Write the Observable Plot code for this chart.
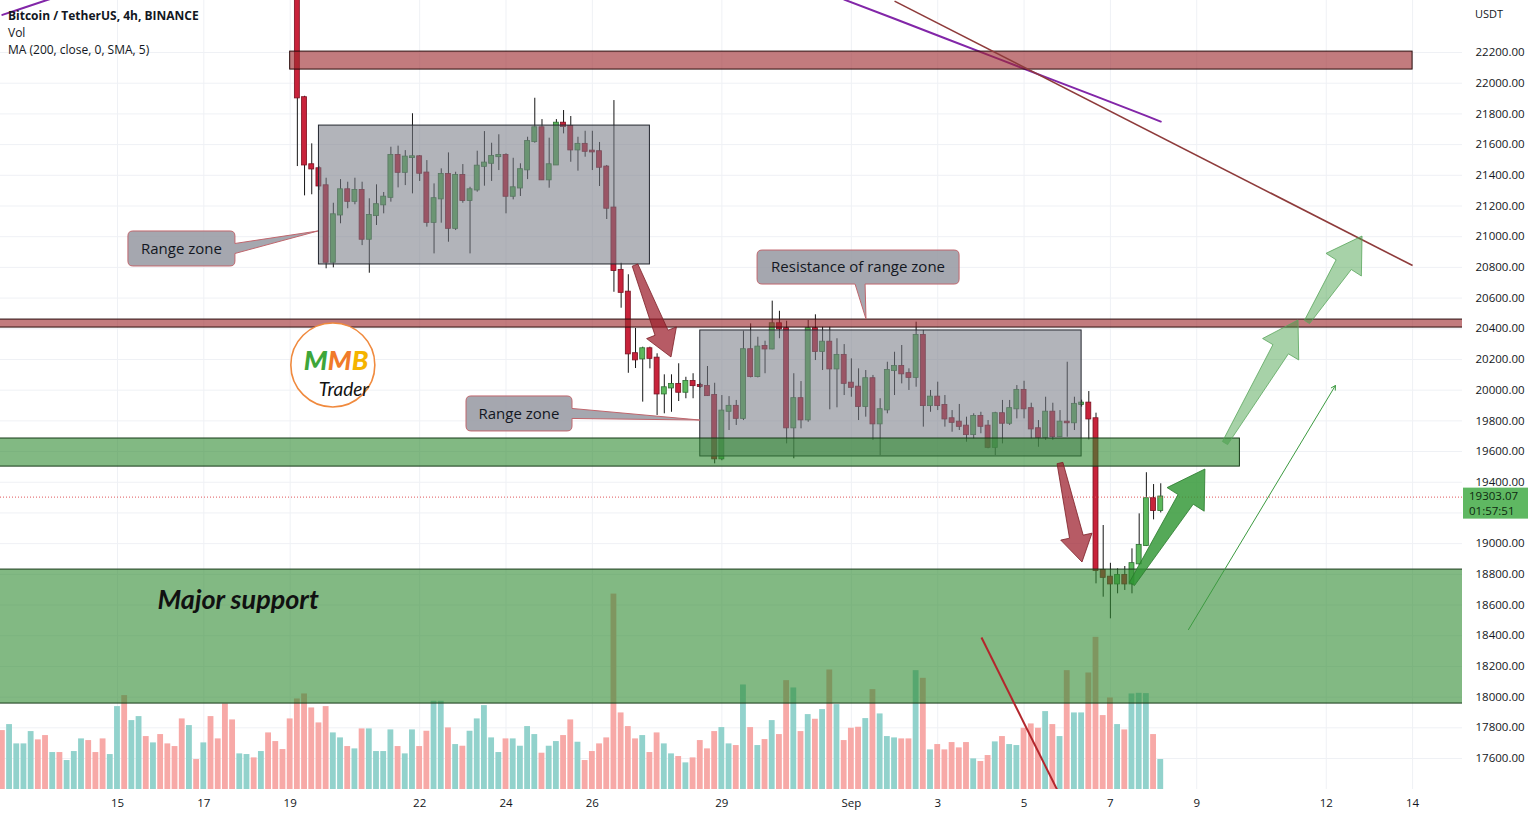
<!DOCTYPE html>
<html><head><meta charset="utf-8">
<script src="https://cdn.jsdelivr.net/npm/d3@7"></script>
<script src="https://cdn.jsdelivr.net/npm/@observablehq/plot@0.6"></script>
<style>
body{margin:0;background:#fff;}
#wrap{position:relative;width:1534px;height:818px;overflow:hidden;font-family:"Open Sans",sans-serif;}
.layer{position:absolute;left:0;top:0;}
#legend{position:absolute;left:8px;top:7px;font-size:12px;line-height:17px;color:#131722;}
#usdt{position:absolute;left:1475px;top:6px;font-size:11px;color:#131722;}
</style></head><body>
<div id="wrap">
  <div id="grid" class="layer"></div>
  <div id="vol" class="layer"></div>
  <div id="main" class="layer"></div>
  <div id="legend"><div style="font-weight:700">Bitcoin / TetherUS, 4h, BINANCE</div><div>Vol</div><div>MA (200, close, 0, SMA, 5)</div></div>
  <div id="usdt">USDT</div>
</div>
<script>
// ---------------- data ----------------
const firstCandle = "2022-08-19T04:00:00Z"; // 4h candles
const opens = [23180,21905,21468,21442,21331,20834,21142,21305,21231,21301,20984,21138,21208,21257,21529,21420,21516,21520,21414,21094,21247,21405,21055,21398,21236,21305,21459,21479,21522,21529,21264,21318,21436,21620,21709,21371,21468,21739,21718,21566,21601,21557,21553,21453,21186,20780,20638,20237,20204,20269,20208,19976,20015,20037,19987,20056,20030,20024,19965,19553,19863,19894,19817,20263,20089,20284,20269,20432,20400,19755,19944,19807,20400,20252,20312,20139,20226,20045,20019,19894,20074,19781,19872,20128,20154,20107,20084,20356,19900,19954,19900,19813,19791,19765,19711,19828,19765,19628,19846,19785,19879,19998,19879,19748,19693,19856,19698,19791,19788,19907,19915,19813,18825,18781,18738,18792,18738,18869,18988,19292,19216];
const highs = [23220,21915,21605,21457,21381,21218,21372,21355,21381,21355,21247,21338,21288,21583,21590,21561,21801,21529,21496,21344,21442,21546,21420,21470,21322,21557,21685,21609,21664,21540,21511,21475,21648,21902,21763,21642,21763,21822,21783,21648,21687,21687,21614,21464,21887,20827,20752,20402,20280,20280,20237,20100,20100,20172,20084,20107,20045,20154,20045,19965,19958,19933,20384,20432,20345,20319,20580,20514,20449,20107,20056,20454,20491,20410,20410,20335,20297,20204,20139,20128,20096,19944,20182,20247,20291,20139,20443,20389,19998,20052,19965,19867,19907,19824,19846,19856,19802,19856,19933,19933,20030,20058,19915,19802,19954,19915,19867,20182,19954,19935,19991,19850,19118,18872,18836,18851,18966,19194,19462,19385,19390];
const lows = [21457,21266,21273,21301,20791,20797,21084,21182,21208,20942,20762,21073,21149,21225,21318,21333,21279,21360,21062,20888,21088,20964,21040,21218,20888,21290,21329,21360,21431,21149,21240,21262,21372,21609,21366,21316,21468,21670,21485,21427,21518,21431,21327,21112,20638,20534,20110,20141,19922,20139,19835,19846,19856,19926,19944,19944,20012,19959,19520,19540,19737,19770,19802,20080,20080,20107,20263,20335,19650,19553,19748,19791,20193,20128,19872,19885,19965,19954,19802,19824,19672,19574,19846,19965,20041,19998,20019,19759,19856,19867,19759,19726,19737,19661,19683,19716,19618,19574,19650,19770,19813,19813,19683,19628,19672,19672,19693,19693,19737,19890,19676,18738,18651,18510,18673,18695,18673,18858,18981,19155,19200];
const closes = [21905,21468,21442,21331,20834,21142,21305,21231,21301,20984,21138,21208,21257,21529,21420,21518,21520,21414,21094,21247,21405,21055,21398,21236,21305,21459,21479,21522,21529,21264,21318,21436,21620,21709,21371,21468,21739,21718,21566,21601,21557,21553,21453,21186,20780,20638,20237,20198,20269,20208,19976,20015,20037,19987,20056,20030,20024,19965,19553,19863,19894,19817,20263,20089,20280,20269,20432,20400,19755,19944,19807,20400,20252,20312,20139,20226,20045,20019,19894,20074,19781,19872,20128,20154,20107,20084,20356,19900,19954,19900,19813,19791,19765,19711,19828,19765,19628,19846,19785,19879,19998,19879,19748,19693,19856,19698,19791,19788,19907,19915,19813,18825,18781,18738,18792,18738,18869,18988,19292,19216,19303.07];

const firstVolumeBar = "2022-08-12T08:00:00Z";
const volumes = [17.7,19.5,13.7,13.7,17.4,14.9,16.2,11.1,11.1,8.7,11.4,15.2,14.7,11.1,15.2,10.5,24.9,28.2,20.7,21.9,15.9,14.0,16.5,13.7,12.9,21.2,19.2,9.0,14.0,21.9,15.2,25.7,20.9,10.7,10.5,9.5,11.4,17.0,14.4,12.0,
21.2,
27.2,28.7,24.5,20.0,24.9,17.0,15.5,12.9,12.2,18.2,
18.2,11.4,11.4,17.9,12.9,10.7,17.9,12.9,17.5,26.5,
26.5,18.5,13.5,13.0,17.5,21.2,25.2,15.5,11.1,15.2,
15.2,13.0,18.9,16.5,10.9,13.0,14.4,16.2,20.9,14.2,
8.7,11.4,13.7,15.5,58.7,23.0,18.9,15.2,16.2,11.1,
17.0,13.7,10.7,9.9,8.0,9.5,14.7,12.2,17.4,18.6,
13.7,13.2,31.4,18.6,13.2,15.0,20.7,16.5,32.7,30.5,
17.4,22.5,21.1,24.0,35.9,25.5,14.7,18.4,18.7,21.3,
30.0,22.7,15.9,15.5,15.2,15.2,35.7,33.4,11.9,13.5,
11.9,14.1,12.5,14.1,9.2,8.4,10.2,14.3,15.9,13.5,
13.2,18.4,19.7,18.4,23.4,19.5,15.9,35.7,23.0,23.0,
35.0,45.7,22.2,27.5,19.5,17.9,28.7,28.9,28.8,16.5,
9.0];
// direction (1 = up) of the volume bars whose candles lie above the visible price range
const earlyVolumeUp = [0,1,1,1,1,0,0,1,0,1,1,1,0,0,0,1,1,0,1,1,0,1,0,0,0,0,1,0,1,0,0,0,0,1,1,0,1,0,0,0,0];

const maTimes  = ["2022-08-12T08:00Z","2022-08-12T20:00Z","2022-08-13T08:00Z","2022-08-13T12:00Z",
                  "2022-08-31T20:00Z","2022-09-02T00:00Z","2022-09-03T04:00Z","2022-09-04T08:00Z","2022-09-05T12:00Z","2022-09-06T16:00Z","2022-09-07T20:00Z","2022-09-08T04:00Z"];
const maValues = [22445,22492,22539,22554, 22545,22420,22293,22167,22040,21914,21787,21750];
const maSegment = [0,0,0,0, 1,1,1,1,1,1,1,1];

const tickDates  = ["2022-08-15","2022-08-17","2022-08-19","2022-08-22","2022-08-24","2022-08-26","2022-08-29","2022-09-01","2022-09-03","2022-09-05","2022-09-07","2022-09-09","2022-09-12","2022-09-14"];
const tickLabels = ["15","17","19","22","24","26","29","Sep","3","5","7","9","12","14"];
const priceTicks = [17600,17800,18000,18200,18400,18600,18800,19000,19200,19400,19600,19800,20000,20200,20400,20600,20800,21000,21200,21400,21600,21800,22000,22200];
const lastPrice = 19303.07;
const countdown = "01:57:51";

// drawn zones
const zoneKinds  = ["range","range","resist","resist","support","support"];
const zoneStarts = ["2022-08-19T16:00Z","2022-08-28T12:00Z","2022-08-19T00:00Z","2022-08-01T00:00Z","2022-08-01T00:00Z","2022-08-01T00:00Z"];
const zoneEnds   = ["2022-08-27T08:00Z","2022-09-06T08:00Z","2022-09-14T00:00Z","2022-09-30T00:00Z","2022-09-10T00:00Z","2022-09-30T00:00Z"];
const zoneLows   = [20819,19568,22089,20408,19502,17958];
const zoneHighs  = [21724,20389,22206,20460,19685,18831];

// trend lines
const lineKinds  = ["trend","drop","target"];
const lineStarts = ["2022-09-02T00:00Z","2022-09-04T00:20Z","2022-09-08T19:25Z"];
const lineStartP = [22535,18388,18440];
const lineEnds   = ["2022-09-14T00:00Z","2022-09-05T18:35Z","2022-09-12T05:05Z"];
const lineEndP   = [20812,17392,20030];

// fat arrows
const arrowKinds  = ["down","down","up","upLight","upLight"];
const arrowFrom   = ["2022-08-27T00:00Z","2022-09-05T20:15Z","2022-09-07T12:15Z","2022-09-09T16:00Z","2022-09-11T13:35Z"];
const arrowFromP  = [20812,19522,18734,19652,20441];
const arrowTo     = ["2022-08-27T20:00Z","2022-09-06T08:30Z","2022-09-09T04:50Z","2022-09-11T08:35Z","2022-09-12T20:10Z"];
const arrowToP    = [20213,18877,19483,20454,21001];

// callouts
const calloutTexts  = ["Range zone","Range zone","Resistance of range zone"];
const calloutTimes  = ["2022-08-16T11:50Z","2022-08-24T07:30Z","2022-09-01T04:00Z"];
const calloutPrices = [20920,19845,20799];
const calloutTipT   = ["2022-08-19T15:45Z","2022-08-28T12:05Z","2022-09-01T08:25Z"];
const calloutTipP   = [21034,19802,20460];
const calloutSides  = ["right","right","bottom"];

const supportLabel = {text:"Major support", time:"2022-08-15T22:15Z", price:18630};
const logo = {time:"2022-08-20T00:00Z", price:20161};

// ---------------- styles ----------------
const W = 1534, Hgt = 818;
const frame = {width: W, height: Hgt, marginLeft: 0, marginRight: 72, marginTop: 0, marginBottom: 29};
const xDomain = [new Date("2022-08-12T06:58Z"), new Date("2022-09-15T03:45Z")];
const yDomain = [17398, 22539];
const HOUR = 3600e3;
const gridColor = "#eff1f5";
const zoneStyle = {
  range:   {fill:"#787b86", fillOpacity:0.57, stroke:"#23262e"},
  resist:  {fill:"#9c2a2f", fillOpacity:0.62, stroke:"#2a0c0c"},
  support: {fill:"#2e8b31", fillOpacity:0.6,  stroke:"#173a18"}
};
const lineStyle = {trend:{stroke:"#8e3b3b", width:1.6}, drop:{stroke:"#b3262c", width:2}, target:{stroke:"#3c9a40", width:1}};
const arrowStyle = {
  down:    {fill:"#9b1c2a", op:0.72, stroke:"#7d1f27", tail:3, neck:7, wing:16, head:26},
  up:      {fill:"#2f9633", op:0.82, stroke:"#2a7a2d", tail:3, neck:9, wing:22, head:36},
  upLight: {fill:"#3b9c3f", op:0.45, stroke:"#5aa65d", tail:3, neck:9, wing:21, head:34}
};
const calloutSize = [{w:107,h:35},{w:106,h:35},{w:202,h:34}];
const fontFam = "'Open Sans', sans-serif";

// ---------------- derived tables ----------------
const t0 = Date.parse(firstCandle);
const candles = opens.map((o, k) => ({t: new Date(t0 + k*4*HOUR), o, h: highs[k], l: lows[k], c: closes[k]}));
const v0 = Date.parse(firstVolumeBar);
const volData = volumes.map((v, k) => {
  const ci = k - earlyVolumeUp.length;
  const up = ci < 0 ? earlyVolumeUp[k] === 1 : closes[ci] >= opens[ci];
  return {t: new Date(v0 + k*4*HOUR), v, up};
});
const maData = maValues.map((v, k) => ({t: new Date(maTimes[k]), v, seg: maSegment[k]}));
const zones = zoneKinds.map((kind, k) => ({kind, x1: new Date(zoneStarts[k]), x2: new Date(zoneEnds[k]), y1: zoneLows[k], y2: zoneHighs[k]}));
const lines = lineKinds.map((kind, k) => ({kind, x1: new Date(lineStarts[k]), y1: lineStartP[k], x2: new Date(lineEnds[k]), y2: lineEndP[k]}));
const arrows = arrowKinds.map((kind, k) => ({kind, x1: new Date(arrowFrom[k]), y1: arrowFromP[k], x2: new Date(arrowTo[k]), y2: arrowToP[k]}));
const callouts = calloutTexts.map((text, k) => ({text, x: new Date(calloutTimes[k]), y: calloutPrices[k], tx: new Date(calloutTipT[k]), ty: calloutTipP[k], side: calloutSides[k], size: calloutSize[k]}));
const tickTimes = tickDates.map(d => new Date(d + "T00:00:00Z"));
const labelByTime = new Map(tickTimes.map((d, i) => [+d, tickLabels[i]]));
// the last-price tag (which sits slightly below the price line) hides the axis label it covers
const axisTicks = priceTicks.filter(p => !(p < lastPrice + 55 && p > lastPrice - 160));

// ---------------- layer 1: grid + axes ----------------
const gridPlot = Plot.plot({
  ...frame,
  style: {background: "white", fontFamily: fontFam, fontSize: "11.5px", color: "#131722"},
  x: {type: "utc", domain: xDomain, ticks: tickTimes, tickFormat: d => labelByTime.get(+d) ?? "", tickSize: 0, tickPadding: 9, label: null},
  y: {domain: yDomain, axis: "right", ticks: axisTicks, tickFormat: d => d.toFixed(2), tickSize: 0, tickPadding: 13, label: null},
  marks: [
    Plot.ruleY(priceTicks, {stroke: gridColor}),
    Plot.ruleX(tickTimes, {stroke: gridColor})
  ]
});
document.getElementById("grid").appendChild(gridPlot);

// ---------------- layer 2: volume ----------------
const volPlot = Plot.plot({
  ...frame,
  style: {background: "transparent"},
  x: {type: "utc", domain: xDomain, axis: null},
  y: {domain: [0, 237], axis: null},
  marks: [
    Plot.rect(volData, {x1: d => new Date(+d.t - 1.62*HOUR), x2: d => new Date(+d.t + 1.62*HOUR), y1: 0, y2: "v",
      fill: d => d.up ? "#92d2cc" : "#f7a9a7", clip: true})
  ]
});
document.getElementById("vol").appendChild(volPlot);

// ---------------- layer 3: price ----------------
function fatArrowMark(a) {
  return (index, scales) => {
    const st = arrowStyle[a.kind];
    const x0 = scales.x(a.x1), y0 = scales.y(a.y1), x1 = scales.x(a.x2), y1 = scales.y(a.y2);
    const dx = x1 - x0, dy = y1 - y0, L = Math.hypot(dx, dy), ux = dx / L, uy = dy / L, nx = -uy, ny = ux;
    const bx = x1 - ux * st.head, by = y1 - uy * st.head;
    const pts = [[x0 + nx*st.tail, y0 + ny*st.tail], [bx + nx*st.neck, by + ny*st.neck], [bx + nx*st.wing, by + ny*st.wing],
      [x1, y1], [bx - nx*st.wing, by - ny*st.wing], [bx - nx*st.neck, by - ny*st.neck], [x0 - nx*st.tail, y0 - ny*st.tail]];
    return d3.create("svg:path").attr("d", "M" + pts.map(p => p.join(",")).join("L") + "Z")
      .attr("fill", st.fill).attr("fill-opacity", st.op).attr("stroke", st.stroke).attr("stroke-opacity", 0.8).attr("stroke-width", 1).node();
  };
}
function calloutMark(c) {
  return (index, scales) => {
    const cx = scales.x(c.x), cy = scales.y(c.y), tx = scales.x(c.tx), ty = scales.y(c.ty);
    const w = c.size.w, h = c.size.h, r = 5, hw = 5;
    const x1 = cx - w/2, x2 = cx + w/2, y1 = cy - h/2, y2 = cy + h/2;
    let d;
    if (c.side === "right") {
      d = `M${x1+r},${y1}H${x2-r}Q${x2},${y1} ${x2},${y1+r}V${cy-hw}L${tx},${ty}L${x2},${cy+hw}V${y2-r}Q${x2},${y2} ${x2-r},${y2}H${x1+r}Q${x1},${y2} ${x1},${y2-r}V${y1+r}Q${x1},${y1} ${x1+r},${y1}Z`;
    } else {
      d = `M${x1+r},${y1}H${x2-r}Q${x2},${y1} ${x2},${y1+r}V${y2-r}Q${x2},${y2} ${x2-r},${y2}H${cx+hw+2}L${tx},${ty}L${cx-hw+2},${y2}H${x1+r}Q${x1},${y2} ${x1},${y2-r}V${y1+r}Q${x1},${y1} ${x1+r},${y1}Z`;
    }
    const g = d3.create("svg:g");
    g.append("path").attr("d", d).attr("fill", "#9598a1").attr("fill-opacity", 0.85).attr("stroke", "#c0666d").attr("stroke-width", 1);
    g.append("text").attr("x", cx).attr("y", cy).attr("dy", "0.35em").attr("text-anchor", "middle")
      .attr("font-family", fontFam).attr("font-size", 15).attr("fill", "#131722").text(c.text);
    return g.node();
  };
}
function logoMark(index, scales) {
  const cx = scales.x(new Date(logo.time)), cy = scales.y(logo.price);
  const g = d3.create("svg:g").attr("transform", `translate(${cx},${cy})`);
  g.append("circle").attr("r", 42).attr("fill", "#ffffff").attr("stroke", "#f08a3e").attr("stroke-width", 1.6);
  const t = g.append("text").attr("x", -29).attr("y", 5).attr("text-anchor", "start").attr("font-family", "Lato, sans-serif").attr("font-weight", 900)
    .attr("font-style", "italic").attr("font-size", 27);
  t.append("tspan").attr("fill", "#3ea63a").text("M");
  t.append("tspan").attr("fill", "#f07a2a").text("M");
  t.append("tspan").attr("fill", "#f5b400").text("B");
  g.append("text").attr("x", -14).attr("y", 31).attr("text-anchor", "start").attr("font-family", "Lato, sans-serif").attr("font-style", "italic")
    .attr("font-size", 19).attr("fill", "#111").text("Trader");
  return g.node();
}
function priceTagMark(index, scales, values, dims) {
  const y = scales.y(lastPrice), x = dims.width - dims.marginRight + 1;
  const g = d3.create("svg:g").attr("text-anchor", "start");
  g.append("rect").attr("x", x).attr("y", y - 9).attr("width", 65).attr("height", 31).attr("fill", "#5fb862");
  g.append("text").attr("x", x + 6).attr("y", y + 3).attr("font-family", fontFam).attr("font-size", 11.5).attr("fill", "#0e2a10").text(lastPrice.toFixed(2));
  g.append("text").attr("x", x + 6).attr("y", y + 18).attr("font-family", fontFam).attr("font-size", 11.5).attr("fill", "#0e2a10").text(countdown);
  return g.node();
}

const mainPlot = Plot.plot({
  ...frame,
  style: {background: "transparent", fontFamily: fontFam},
  x: {type: "utc", domain: xDomain, axis: null},
  y: {domain: yDomain, axis: null},
  marks: [
    Plot.ruleX(candles, {x: "t", y1: "l", y2: "h", stroke: "#161616", strokeWidth: 1, clip: true}),
    Plot.rect(candles, {x1: d => new Date(+d.t - 1.38*HOUR), x2: d => new Date(+d.t + 1.38*HOUR), y1: "o", y2: "c",
      fill: d => d.c >= d.o ? "#5cb85c" : "#c8233b", stroke: d => d.c >= d.o ? "#2f6f33" : "#7a1020", strokeWidth: 0.8,
      insetTop: -0.6, insetBottom: -0.6, clip: true}),
    Plot.ruleY([lastPrice], {stroke: "#e0575a", strokeDasharray: "1,2", strokeWidth: 1}),
    Plot.line(maData, {x: "t", y: "v", z: "seg", stroke: "#8226a8", strokeWidth: 2, clip: true}),
    Plot.rect(zones, {x1: "x1", x2: "x2", y1: "y1", y2: "y2", fill: d => zoneStyle[d.kind].fill,
      fillOpacity: d => zoneStyle[d.kind].fillOpacity, stroke: d => zoneStyle[d.kind].stroke, strokeWidth: 1, clip: true}),
    Plot.link(lines.filter(l => l.kind !== "target"), {x1: "x1", y1: "y1", x2: "x2", y2: "y2",
      stroke: d => lineStyle[d.kind].stroke, strokeWidth: d => lineStyle[d.kind].width, clip: true}),
    Plot.arrow(lines.filter(l => l.kind === "target"), {x1: "x1", y1: "y1", x2: "x2", y2: "y2",
      stroke: lineStyle.target.stroke, strokeWidth: lineStyle.target.width, headLength: 7, clip: true}),
    ...arrows.map(fatArrowMark),
    ...callouts.map(calloutMark),
    logoMark,
    Plot.text([supportLabel], {x: d => new Date(d.time), y: "price", text: "text", textAnchor: "start",
      fontSize: 27, fontWeight: "bold", fontStyle: "italic", fontFamily: "Lato, sans-serif", fill: "#111"}),
    priceTagMark
  ]
});
document.getElementById("main").appendChild(mainPlot);
</script>
</body></html>
